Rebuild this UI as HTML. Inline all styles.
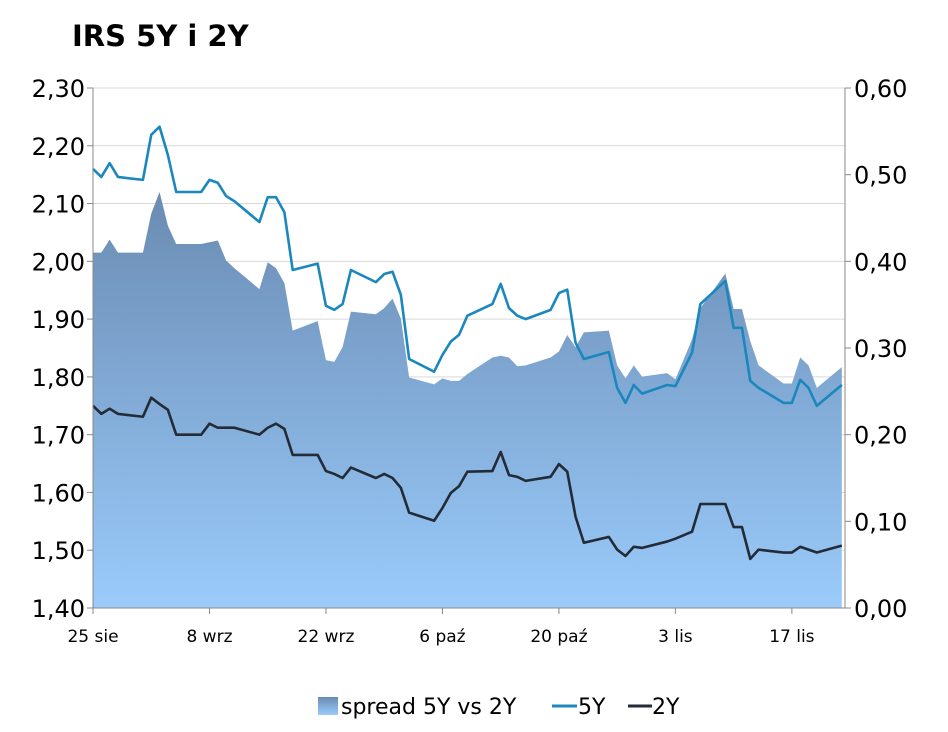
<!DOCTYPE html>
<html><head><meta charset="utf-8"><style>
body{margin:0;background:#fff;font-family:"Liberation Sans","DejaVu Sans",sans-serif;}
</style></head><body>
<svg width="948" height="727" xmlns="http://www.w3.org/2000/svg" font-family="Verdana, 'DejaVu Sans', sans-serif">
<defs><linearGradient id="g" x1="0" y1="0" x2="0" y2="1"><stop offset="0" stop-color="#6a8bb2"/><stop offset="1" stop-color="#9acbfb"/></linearGradient></defs>
<text x="72" y="46" font-size="29" font-weight="bold" fill="#000">IRS 5Y i 2Y</text>
<g id="grid"></g><g id="area"></g><g id="lines"></g><g id="axes"></g>
<g font-size="22" fill="#000">
<rect x="318" y="697" width="20" height="18" fill="url(#g)"/>
<text x="341" y="714">spread 5Y vs 2Y</text>
<line x1="552" y1="706" x2="577" y2="706" stroke="#1a87bd" stroke-width="3"/>
<text x="578" y="714">5Y</text>
<line x1="628" y1="706" x2="652" y2="706" stroke="#232b36" stroke-width="3"/>
<text x="652" y="714">2Y</text>
</g>
</svg>
<script>
const days=[0,1,2,3,6,7,8,9,10,13,14,15,16,17,20,21,22,23,24,27,28,29,30,31,34,35,36,37,38,41,42,43,44,45,48,49,50,51,52,55,56,57,58,59,62,63,64,65,66,69,70,72,73,76,77,78,79,80,83,84,85,86,87,90];
const y5=[2.160,2.146,2.170,2.146,2.141,2.219,2.233,2.184,2.120,2.120,2.141,2.136,2.113,2.104,2.068,2.111,2.111,2.085,1.985,1.996,1.923,1.916,1.926,1.985,1.964,1.978,1.982,1.942,1.831,1.809,1.838,1.861,1.873,1.906,1.926,1.961,1.919,1.906,1.900,1.916,1.945,1.951,1.859,1.831,1.843,1.781,1.755,1.786,1.771,1.786,1.784,1.842,1.926,1.966,1.885,1.885,1.793,1.781,1.755,1.755,1.795,1.781,1.750,1.786];
const y2=[1.750,1.736,1.745,1.736,1.731,1.764,1.753,1.743,1.700,1.700,1.719,1.712,1.712,1.712,1.700,1.712,1.719,1.710,1.665,1.665,1.637,1.632,1.625,1.643,1.625,1.632,1.625,1.608,1.565,1.551,1.573,1.599,1.611,1.636,1.637,1.670,1.630,1.627,1.620,1.627,1.649,1.636,1.558,1.513,1.523,1.501,1.490,1.506,1.504,1.515,1.520,1.532,1.580,1.580,1.540,1.540,1.485,1.501,1.496,1.496,1.506,1.501,1.496,1.508];
const spread=[0.410,0.410,0.425,0.410,0.410,0.455,0.480,0.441,0.420,0.420,0.422,0.424,0.401,0.392,0.368,0.399,0.392,0.375,0.320,0.331,0.286,0.284,0.301,0.342,0.339,0.346,0.357,0.334,0.266,0.258,0.265,0.262,0.262,0.270,0.289,0.291,0.289,0.279,0.280,0.289,0.296,0.315,0.301,0.318,0.320,0.280,0.265,0.280,0.267,0.271,0.264,0.310,0.346,0.386,0.345,0.345,0.308,0.280,0.259,0.259,0.289,0.280,0.254,0.278];
const leftTicks=["1,40","1,50","1,60","1,70","1,80","1,90","2,00","2,10","2,20","2,30"];
const rightTicks=["0,00","0,10","0,20","0,30","0,40","0,50","0,60"];
const xTickDays=[0,14,28,42,56,70,84];
const xTickLabels=["25 sie","8 wrz","22 wrz","6 paź","20 paź","3 lis","17 lis"];
const X0=93,X1=845,T=88,B=608;
const xs=d=>X0+d*8.32;
const yl=v=>B-(v-1.4)/0.9*(B-T);
const yr=v=>B-v/0.6*(B-T);
const NS="http://www.w3.org/2000/svg";
function mk(p,t,a){const e=document.createElementNS(NS,t);for(const k in a)e.setAttribute(k,a[k]);document.getElementById(p).appendChild(e);return e;}
leftTicks.forEach((t,i)=>{const y=yl(1.4+i*0.1);
 if(i>0){const g=mk('grid','line',{x1:X0,x2:X1,y1:y,y2:y,stroke:'#d9d9d9','stroke-width':1});}
 mk('axes','line',{x1:X0-6,x2:X0,y1:y,y2:y,stroke:'#888'});
 const tx=mk('axes','text',{x:X0-8,y:y+9,'text-anchor':'end','font-size':24,fill:'#000'});tx.textContent=t;
 });
rightTicks.forEach((t,i)=>{const y=yr(i*0.1);
 mk('axes','line',{x1:X1,x2:X1+6,y1:y,y2:y,stroke:'#888'});
 const tx=mk('axes','text',{x:X1+9,y:y+9,'font-size':24,fill:'#000'});tx.textContent=t;
 });
xTickDays.forEach((d,i)=>{const x=xs(d);
 mk('axes','line',{x1:x,x2:x,y1:B,y2:B+6,stroke:'#888'});
 const tx=mk('axes','text',{x:x,y:B+34,'text-anchor':'middle','font-size':17,fill:'#000'});tx.textContent=xTickLabels[i];
 });
let ap=`M${xs(days[0])},${B}`;days.forEach((d,i)=>ap+=` L${xs(d)},${yr(spread[i])}`);ap+=` L${xs(days[days.length-1])},${B}Z`;
const a=mk('area','path',{d:ap,fill:'url(#g)'});

function line(vals,c,n){const p=mk('lines','polyline',{points:days.map((d,i)=>xs(d)+','+yl(vals[i])).join(' '),fill:'none',stroke:c,'stroke-width':2.6,'stroke-linejoin':'round'});
 }
line(y5,'#1a87bd','line-5y');line(y2,'#232b36','line-2y');
mk('axes','line',{x1:X0,x2:X0,y1:T,y2:B,stroke:'#888'});
mk('axes','line',{x1:X1,x2:X1,y1:T,y2:B,stroke:'#888'});
mk('axes','line',{x1:X0,x2:X1,y1:B,y2:B,stroke:'#888'});
</script>
</body></html>
